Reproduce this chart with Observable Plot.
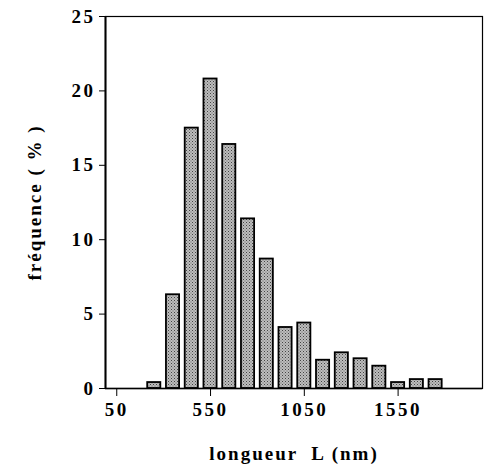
<!DOCTYPE html>
<html><head><meta charset="utf-8">
<script src="https://cdn.jsdelivr.net/npm/d3@7"></script>
<script src="https://cdn.jsdelivr.net/npm/@observablehq/plot@0.6"></script>
<style>body{margin:0;background:#fff}</style>
</head><body><div id="chart"></div>
<script>
const binCenters = [250,350,450,550,650,750,850,950,1050,1150,1250,1350,1450,1550,1650,1750];
const frequencies = [0.4,6.3,17.5,20.8,16.4,11.4,8.7,4.1,4.4,1.9,2.4,2.0,1.5,0.4,0.6,0.6];
const xTicks = [50,550,1050,1550];
const yTicks = [0,5,10,15,20,25];
const barWidth = 70;

const data = binCenters.map((c,i)=>({x1:c-barWidth/2,x2:c+barWidth/2,y:frequencies[i]}));
const font = "'Liberation Serif', 'DejaVu Serif', serif";

const plot = Plot.plot({
  width: 487, height: 474,
  marginLeft: 105, marginRight: 5, marginTop: 16, marginBottom: 86,
  style: {fontFamily: font, background: "#fff", color: "#000"},
  x: {domain: [-10, 2000]},
  y: {domain: [0, 25]},
  marks: [
    Plot.frame({stroke: "#000", strokeWidth: 1.2}),
    Plot.rectY(data, {x1:"x1", x2:"x2", y:"y", fill:"url(#stipple)", stroke:"#000", strokeWidth:1.8}),
    Plot.ruleX([-10], {stroke:"#000", strokeWidth:2}),
    Plot.ruleY([0], {stroke:"#000", strokeWidth:1.5}),
    Plot.axisY({ticks: yTicks, tickFormat: d => String(d), tickSize: 6, tickPadding: 4, fontSize: 19, fontWeight: "bold",
      label: "fréquence ( % )", labelAnchor: "center", labelArrow: "none", labelOffset: 78}),
    Plot.axisX({ticks: xTicks, tickFormat: d => String(d), tickSize: 8, tickPadding: 6, fontSize: 19, fontWeight: "bold",
      label: "longueur  L (nm)", labelAnchor: "center", labelArrow: "none", labelOffset: 71})
  ]
});

const svg = d3.select(plot);
const defs = svg.insert("defs", ":first-child");
const pat = defs.append("pattern").attr("id","stipple").attr("patternUnits","userSpaceOnUse")
  .attr("width",3).attr("height",3);
pat.append("rect").attr("width",3).attr("height",3).attr("fill","#bdbdbd");
pat.append("rect").attr("x",0).attr("y",0).attr("width",1).attr("height",1).attr("fill","#444");
pat.append("rect").attr("x",1.5).attr("y",1.5).attr("width",1).attr("height",1).attr("fill","#666");
svg.selectAll("[aria-label='y-axis tick label'] text, [aria-label='x-axis tick label'] text")
  .style("letter-spacing", "2.5px");
svg.selectAll("[aria-label='y-axis label'] text, [aria-label='x-axis label'] text")
  .attr("font-size", 19).attr("font-weight", "bold").style("letter-spacing", "2px");
document.getElementById("chart").appendChild(plot);
</script></body></html>
